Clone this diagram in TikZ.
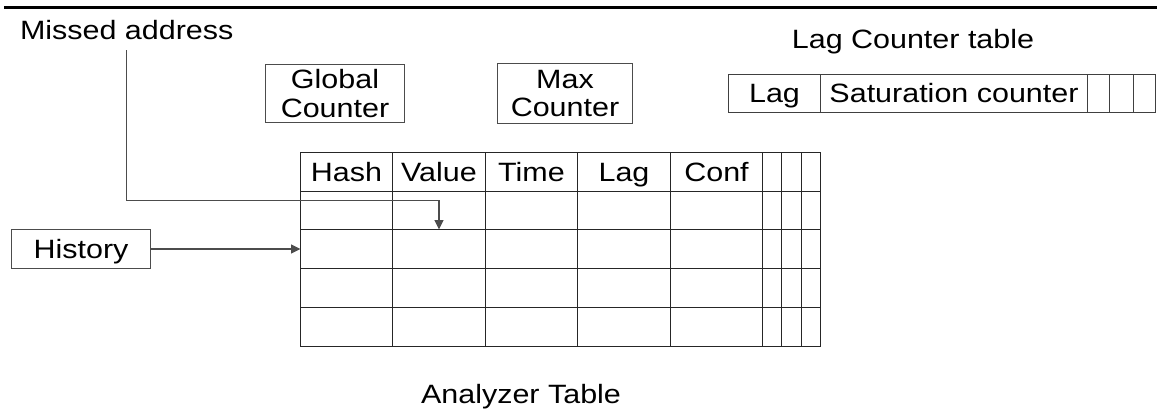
\documentclass[tikz,border=0pt]{standalone}
\usepackage{fontspec}
\setmainfont{Liberation Sans}[FakeStretch=1.15]
\usetikzlibrary{arrows.meta}
\begin{document}
\begin{tikzpicture}[x=1pt,y=-1pt,
  txt/.style={font=\fontsize{26.5}{30.5}\selectfont, inner sep=0pt, outer sep=0pt},
  lbl/.style={txt, anchor=base},
  box/.style={txt, draw=black!70, line width=1.1pt, align=center},
  cell/.style={txt, text height=20pt, text depth=2pt},
  rule/.style={draw=black!85, line width=1.1pt},
  lrule/.style={draw=black!75, line width=1.1pt},
  conn/.style={draw=black!70, line width=1.1pt},
  arr/.style={conn, -{Triangle[length=9.5pt,width=9pt]}},
]
\useasboundingbox (0,0) rectangle (1157,415);

% heading rule
\draw[line width=3pt] (4,7) -- (1157,7);

% labels
\node[lbl, anchor=base west] (missed) at (20,39.3) {Missed address};
\node[lbl] (lagtitle) at (913,48.3) {Lag Counter table};
\node[lbl] (antitle) at (521,403) {Analyzer Table};

% counters
\node[box, minimum width=139pt, minimum height=58pt] (global) at (335,93.5) {Global\\[-2pt]Counter};
\node[box, minimum width=135pt, minimum height=60pt] (max) at (565,93.5) {Max\\[-2pt]Counter};

% lag counter table: one row of cells
\foreach \n/\xl/\xr/\t in {lag/728.5/820.5/Lag, sat/820.5/1087.5/Saturation counter,
    lx1/1087.5/1109.5/, lx2/1109.5/1133.5/, lx3/1133.5/1155.5/}
  \node[cell, minimum width={(\xr-\xl)*1pt}, minimum height=38pt] (\n) at ({(\xl+\xr)/2},93.5) {\t};
\draw[lrule] (lag.north west) rectangle (lx3.south east);
\foreach \n in {sat,lx1,lx2,lx3}
  \draw[lrule] (\n.north west) -- (\n.south west);

% analyzer table: 5 rows x 8 columns
\foreach \r/\yt/\yb in {0/152.5/191.5, 1/191.5/229.5, 2/229.5/268.5, 3/268.5/307.5, 4/307.5/346.5}
  \foreach \c/\xl/\xr in {0/300.5/392.5, 1/392.5/485.5, 2/485.5/577.5, 3/577.5/670.5,
      4/670.5/762.5, 5/762.5/781.5, 6/781.5/801.5, 7/801.5/820.5}
    \node[cell, minimum width={(\xr-\xl)*1pt}, minimum height={(\yb-\yt)*1pt}]
      (t-\r-\c) at ({(\xl+\xr)/2},{(\yt+\yb)/2}) {};
\draw[rule] (t-0-0.north west) rectangle (t-4-7.south east);
\foreach \r in {1,...,4}
  \draw[rule] (t-\r-0.north west) -- (t-\r-7.north east);
\foreach \c in {1,...,7}
  \draw[rule] (t-0-\c.north west) -- (t-4-\c.south west);
\foreach \c/\t in {0/Hash,1/Value,2/Time,3/Lag,4/Conf}
  \node[cell] (h-\c) at (t-0-\c) {\t};

% history input
\node[box, minimum width=139pt, minimum height=39pt, text height=20pt, text depth=2pt] (history) at (81,249) {History};

% connectors
\coordinate (mstart) at ([yshift=-10.7pt]missed.south);
\coordinate (mbend) at ([yshift=-9pt]t-1-1.north);
\draw[arr] (mstart) |- (mbend) -- (t-1-1.south);
\draw[arr] (history.east) -- (t-2-0.west);
\end{tikzpicture}
\end{document}
